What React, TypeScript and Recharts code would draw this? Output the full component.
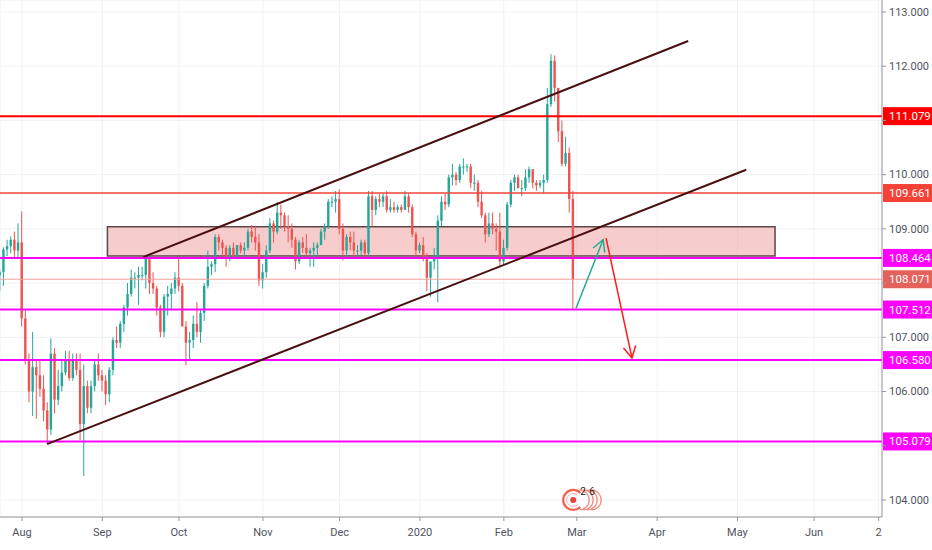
import React from 'react';
import {
  ComposedChart,
  Bar,
  XAxis,
  YAxis,
  CartesianGrid,
  ReferenceLine,
  ReferenceArea,
  ReferenceDot,
} from 'recharts';

// daily candles, one per trading day. index 0 = Aug 1 2019, first entry is Jul 24 (-6)
const firstDay = -6;

const opens = [
  108.15, 108.20, 108.62, 108.68, 108.80, 108.60, 108.75, 107.35, 106.60, 106.00,
  106.45, 106.30, 106.05, 105.65, 105.30, 106.70, 105.85, 106.10, 106.35, 106.60,
  106.25, 106.60, 106.40, 105.40, 106.10, 105.70, 106.10, 106.50, 106.30, 106.20,
  105.95, 106.40, 106.95, 106.90, 107.25, 107.55, 107.80, 108.10, 108.10, 108.15,
  108.15, 108.45, 108.00, 107.90, 107.55, 107.10, 107.75, 107.80, 107.90, 108.10,
  107.95, 107.20, 106.90, 106.95, 107.25, 107.10, 107.45, 107.95, 108.30, 108.35,
  108.85, 108.75, 108.65, 108.45, 108.65, 108.50, 108.70, 108.60, 108.65, 108.95,
  108.85, 108.75, 108.05, 108.20, 108.60, 109.10, 108.95, 109.30, 109.25, 109.05,
  109.00, 108.80, 108.40, 108.75, 108.65, 108.55, 108.60, 108.65, 108.70, 108.95,
  109.05, 109.50, 109.50, 109.55, 109.00, 108.60, 108.85, 108.75, 108.60, 108.60,
  108.75, 108.55, 109.60, 109.35, 109.55, 109.50, 109.60, 109.35, 109.40, 109.35,
  109.40, 109.35, 109.60, 109.40, 108.90, 108.60, 108.70, 108.50, 108.10, 108.40,
  108.45, 109.15, 109.50, 109.45, 109.95, 110.00, 109.90, 110.15, 110.15, 110.15,
  109.85, 109.85, 109.50, 109.25, 108.90, 109.10, 109.00, 108.95, 108.40, 108.65,
  109.45, 109.85, 109.95, 109.75, 109.75, 109.95, 110.10, 109.85, 109.80, 109.85,
  109.90, 111.30, 112.10, 111.60, 110.80, 110.20, 110.40, 109.55,
];

const highs = [
  108.25, 108.66, 108.80, 108.86, 108.95, 109.10, 109.32, 107.50, 106.70, 107.10,
  106.60, 106.60, 106.30, 105.80, 106.98, 106.80, 106.40, 106.60, 106.75, 106.75,
  106.70, 106.70, 106.70, 106.50, 106.20, 106.20, 106.60, 106.70, 106.40, 106.30,
  106.45, 107.00, 107.20, 107.30, 107.60, 108.00, 108.25, 108.20, 108.30, 108.30,
  108.48, 108.48, 108.20, 107.95, 107.60, 107.80, 107.95, 108.00, 108.20, 108.48,
  108.00, 107.30, 107.10, 107.40, 107.65, 107.50, 108.00, 108.60, 108.40, 108.90,
  108.90, 108.80, 108.70, 108.70, 108.75, 108.70, 108.75, 108.75, 109.00, 109.07,
  109.05, 108.90, 108.35, 108.70, 109.20, 109.15, 109.50, 109.45, 109.30, 109.25,
  109.10, 108.85, 108.80, 108.85, 108.90, 108.65, 108.75, 108.75, 109.00, 109.10,
  109.55, 109.60, 109.70, 109.73, 109.10, 108.90, 108.95, 108.95, 108.70, 108.80,
  108.80, 109.70, 109.70, 109.60, 109.65, 109.65, 109.70, 109.55, 109.50, 109.45,
  109.45, 109.70, 109.65, 109.45, 108.95, 108.75, 108.85, 108.55, 108.25, 108.65,
  109.25, 109.60, 109.65, 110.00, 110.20, 110.05, 110.20, 110.30, 110.20, 110.20,
  110.00, 109.90, 109.70, 109.30, 109.30, 109.30, 109.10, 109.30, 108.80, 109.50,
  109.90, 110.00, 110.00, 109.90, 110.10, 110.15, 110.10, 109.90, 109.90, 110.00,
  111.60, 112.22, 112.20, 111.60, 111.00, 110.70, 110.50, 109.70,
];

const lows = [
  107.85, 107.95, 108.50, 108.55, 108.45, 108.45, 107.20, 106.50, 105.80, 105.55,
  105.50, 105.90, 105.45, 105.05, 105.20, 105.60, 105.75, 106.00, 106.30, 106.20,
  106.20, 106.30, 105.10, 104.44, 105.60, 105.60, 106.00, 106.20, 106.00, 105.75,
  105.80, 106.30, 106.80, 106.80, 107.10, 107.40, 107.75, 107.90, 107.60, 108.05,
  107.90, 107.80, 107.80, 107.40, 107.00, 107.00, 107.40, 107.50, 107.80, 107.85,
  107.20, 106.48, 106.60, 106.80, 107.00, 106.90, 107.30, 107.90, 108.15, 108.20,
  108.60, 108.50, 108.30, 108.40, 108.45, 108.45, 108.55, 108.50, 108.60, 108.75,
  108.60, 107.95, 107.90, 108.10, 108.55, 108.75, 108.90, 109.00, 108.95, 108.75,
  108.65, 108.25, 108.35, 108.55, 108.50, 108.30, 108.30, 108.50, 108.70, 108.80,
  109.00, 109.40, 109.30, 108.90, 108.42, 108.45, 108.60, 108.50, 108.50, 108.50,
  108.45, 108.50, 109.05, 109.25, 109.40, 109.40, 109.30, 109.30, 109.30, 109.30,
  109.30, 109.35, 109.30, 108.85, 108.50, 108.55, 108.40, 107.85, 107.75, 108.25,
  107.65, 109.05, 109.35, 109.40, 109.80, 109.80, 109.85, 110.00, 110.05, 109.75,
  109.70, 109.40, 109.20, 108.75, 108.85, 108.90, 108.60, 108.30, 108.35, 108.60,
  109.40, 109.70, 109.75, 109.60, 109.70, 109.85, 109.75, 109.70, 109.75, 109.65,
  109.85, 111.25, 111.35, 110.60, 110.15, 110.15, 109.30, 107.52,
];

const closes = [
  108.20, 108.62, 108.68, 108.80, 108.60, 108.75, 107.35, 106.60, 106.00, 106.45,
  106.30, 106.05, 105.65, 105.30, 106.70, 105.85, 106.10, 106.35, 106.60, 106.25,
  106.60, 106.40, 105.40, 106.10, 105.70, 106.10, 106.50, 106.30, 106.20, 105.95,
  106.40, 106.95, 106.90, 107.25, 107.55, 107.80, 108.10, 108.10, 108.15, 108.15,
  108.45, 108.00, 107.90, 107.55, 107.10, 107.75, 107.80, 107.90, 108.10, 107.95,
  107.20, 106.90, 106.95, 107.25, 107.10, 107.45, 107.95, 108.30, 108.35, 108.85,
  108.75, 108.65, 108.45, 108.65, 108.50, 108.70, 108.60, 108.65, 108.95, 108.85,
  108.75, 108.05, 108.20, 108.60, 109.10, 108.95, 109.30, 109.25, 109.05, 109.00,
  108.80, 108.40, 108.75, 108.65, 108.55, 108.60, 108.65, 108.70, 108.95, 109.05,
  109.50, 109.50, 109.55, 109.00, 108.60, 108.85, 108.75, 108.60, 108.60, 108.75,
  108.55, 109.60, 109.35, 109.55, 109.50, 109.60, 109.35, 109.40, 109.35, 109.40,
  109.35, 109.60, 109.40, 108.90, 108.60, 108.70, 108.50, 108.10, 108.40, 108.45,
  109.15, 109.50, 109.45, 109.95, 110.00, 109.90, 110.15, 110.15, 110.15, 109.85,
  109.85, 109.50, 109.25, 108.90, 109.10, 109.00, 108.95, 108.40, 108.65, 109.45,
  109.85, 109.95, 109.75, 109.75, 109.95, 110.10, 109.85, 109.80, 109.85, 109.90,
  111.30, 112.10, 111.60, 110.80, 110.20, 110.40, 109.55, 108.07,
];

// month ticks on the trading-day index
const monthTicks = [0, 22, 43, 66, 87, 109, 132, 152, 174, 196, 217, 234.7];
const monthLabels = ['Aug', 'Sep', 'Oct', 'Nov', 'Dec', '2020', 'Feb', 'Mar', 'Apr', 'May', 'Jun', '2'];

const priceTicks = [104, 105, 106, 107, 108, 109, 110, 111, 112, 113];
const hiddenPriceTicks = [105, 108, 111];

const resistanceLevels = [111.079, 109.661];
const supportLevels = [108.464, 107.512, 106.58, 105.079];
const lastPrice = 108.071;

// drawings (data coords: trading day, price)
const zone = { x1: 23.4, x2: 206.3, y1: 108.5, y2: 109.04 };
const upperChannel = [{ x: 33.2, y: 108.48 }, { x: 182.5, y: 112.465 }];
const lowerChannel = [{ x: 6.85, y: 105.03 }, { x: 198.4, y: 110.09 }];
const upArrow = [{ x: 151.8, y: 107.54 }, { x: 159.2, y: 108.8 }];
const downArrow = [{ x: 160, y: 108.83 }, { x: 167.1, y: 106.62 }];
const eventMarker = { x: 151, y: 104.0 };

const data = opens.map((o, i) => ({
  day: firstDay + i,
  open: o,
  high: highs[i],
  low: lows[i],
  close: closes[i],
}));

const UP = '#26a69a';
const DOWN = '#ef5350';
const FONT = 'Roboto, sans-serif';

function Candle(props: any) {
  const { x, y, width, height, payload } = props;
  if (!payload) return null;
  const { open, close, high, low } = payload;
  const color = close >= open ? UP : DOWN;
  const span = high - low || 1;
  const py = (v: number) => y + ((high - v) / span) * height;
  const cx = x + width / 2;
  const top = py(Math.max(open, close));
  const bot = py(Math.min(open, close));
  const bw = 2.4;
  return (
    <g>
      <line x1={cx} x2={cx} y1={y} y2={y + height} stroke={color} strokeWidth={1} />
      <rect x={cx - bw / 2} y={top} width={bw} height={Math.max(bot - top, 1)} fill={color} />
    </g>
  );
}

const priceTag = (bg: string, value: number) => (props: any) => {
  const vb = props.viewBox || {};
  const x = vb.x + vb.width;
  const y = vb.y;
  return (
    <g>
      <rect x={x + 1} y={y - 9} width={50} height={18} fill={bg} />
      <text x={x + 7} y={y} dy="0.35em" fill="#fff" fontSize={11.5} fontFamily={FONT}>
        {value.toFixed(3)}
      </text>
    </g>
  );
};

const arrowShape = (color: string) => (props: any) => {
  const { x1, y1, x2, y2 } = props;
  const a = Math.atan2(y2 - y1, x2 - x1);
  const len = 13;
  const sp = 0.5;
  const hx1 = x2 - len * Math.cos(a - sp);
  const hy1 = y2 - len * Math.sin(a - sp);
  const hx2 = x2 - len * Math.cos(a + sp);
  const hy2 = y2 - len * Math.sin(a + sp);
  return (
    <g>
      <line x1={x1} y1={y1} x2={x2} y2={y2} stroke={color} strokeWidth={1.5} />
      <polyline points={`${hx1},${hy1} ${x2},${y2} ${hx2},${hy2}`} fill="none" stroke={color} strokeWidth={1.5} />
    </g>
  );
};

// open "C" arc around (cx, cy), gap on the right side
const cArc = (cx: number, cy: number, r: number) => {
  const a = Math.PI / 4;
  const sx = cx + r * Math.cos(-a);
  const sy = cy + r * Math.sin(-a);
  const ex = cx + r * Math.cos(a);
  const ey = cy + r * Math.sin(a);
  return `M ${sx} ${sy} A ${r} ${r} 0 1 0 ${ex} ${ey}`;
};

// right half arc
const rArc = (cx: number, cy: number, r: number) =>
  `M ${cx} ${cy - r} A ${r} ${r} 0 0 1 ${cx} ${cy + r}`;

function EventIcon(props: any) {
  const { cx, cy } = props;
  const c = '#f0604f';
  return (
    <g>
      {[6, 10, 14, 18].map((o) => (
        <path key={o} d={rArc(cx + o, cy, 10)} fill="none" stroke={c} strokeOpacity={0.7} strokeWidth={1.3} />
      ))}
      <path d={cArc(cx, cy, 10)} fill="none" stroke={c} strokeWidth={2.2} />
      <path d={cArc(cx, cy, 6.5)} fill="none" stroke={c} strokeOpacity={0.5} strokeWidth={1} />
      <circle cx={cx} cy={cy} r={3} fill="#e8403a" />
      <text x={cx + 7} y={cy - 5} fontSize={10} fontFamily={FONT} fill="#222">2</text>
      <text x={cx + 16} y={cy - 5} fontSize={10} fontFamily={FONT} fill="#222">6</text>
    </g>
  );
}

function PriceTick(props: any) {
  const { x, y, payload } = props;
  if (hiddenPriceTicks.includes(payload.value)) return <g />;
  return (
    <text x={x} y={y} dy="0.35em" textAnchor="start" fontSize={11} fontFamily={FONT} fill="#50535e">
      {Number(payload.value).toFixed(3)}
    </text>
  );
}

export default function App() {
  return (
    <div style={{ position: 'absolute', left: 0, top: 0, width: 932, height: 550, background: '#fff' }}>
      <ComposedChart width={932} height={550} data={data} margin={{ top: 0, right: 0, bottom: 0, left: 0 }}>
        <CartesianGrid stroke="#eef1f6" />
        <XAxis
          dataKey="day"
          type="number"
          domain={[-6.03, 235.6]}
          allowDataOverflow
          ticks={monthTicks}
          interval={0}
          tickFormatter={(v: number) => monthLabels[monthTicks.indexOf(v)] ?? ''}
          height={33}
          stroke="#9598a1"
          tickSize={4}
          tickMargin={7}
          tick={{ fontSize: 11, fontFamily: FONT, fill: '#50535e' }}
        />
        <YAxis
          orientation="right"
          type="number"
          domain={[103.686, 113.221]}
          allowDataOverflow
          ticks={priceTicks}
          interval={0}
          width={50}
          stroke="#9598a1"
          tickSize={4}
          tickMargin={3}
          tick={<PriceTick />}
        />
        <ReferenceArea
          x1={zone.x1}
          x2={zone.x2}
          y1={zone.y1}
          y2={zone.y2}
          fill="#ef9a9a"
          fillOpacity={0.5}
          stroke="#5d4646"
          strokeWidth={1.5}
        />
        <Bar
          dataKey={(d: any) => [d.low, d.high]}
          barSize={3}
          shape={<Candle />}
          isAnimationActive={false}
        />
        <ReferenceLine y={lastPrice} stroke="#f4a09c" strokeWidth={1} label={priceTag('#e5625c', lastPrice)} />
        {supportLevels.map((v) => (
          <ReferenceLine key={v} y={v} stroke="#ff00ff" strokeWidth={2} label={priceTag('#ff00ff', v)} />
        ))}
        <ReferenceLine y={resistanceLevels[0]} stroke="#ff0000" strokeWidth={2} label={priceTag('#ff0000', resistanceLevels[0])} />
        <ReferenceLine y={resistanceLevels[1]} stroke="#f44336" strokeWidth={1.5} label={priceTag('#f44336', resistanceLevels[1])} />
        <ReferenceLine segment={upperChannel} stroke="#4a1010" strokeWidth={2} />
        <ReferenceLine segment={lowerChannel} stroke="#4a1010" strokeWidth={2} />
        <ReferenceLine segment={upArrow} shape={arrowShape('#22ab94')} />
        <ReferenceLine segment={downArrow} shape={arrowShape('#ff1a1a')} />
        <ReferenceDot x={eventMarker.x} y={eventMarker.y} r={10} shape={<EventIcon />} />
      </ComposedChart>
    </div>
  );
}
